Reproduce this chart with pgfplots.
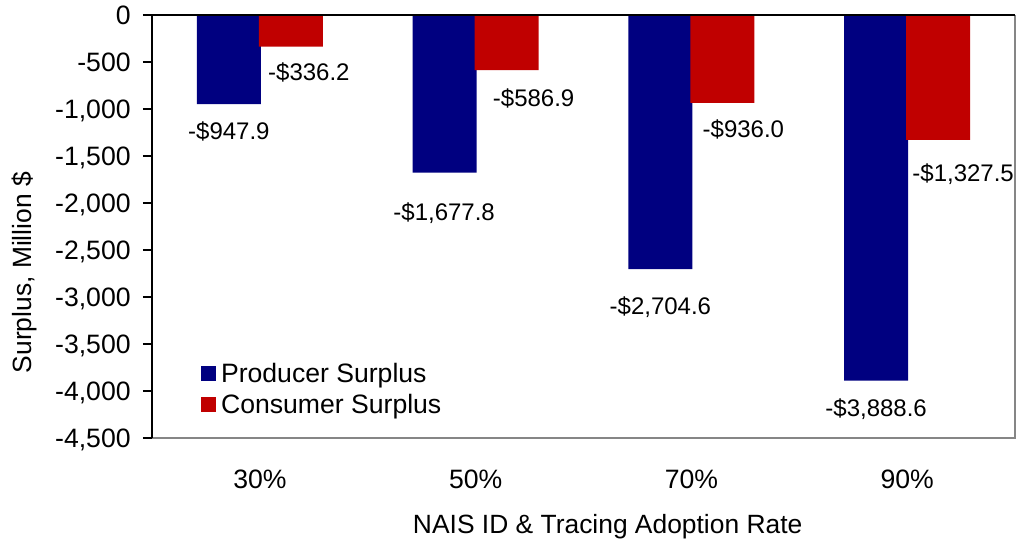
\documentclass[border=0pt]{standalone}
\usepackage{fontspec}
\setmainfont{Liberation Sans}
\usepackage{pgfplots}
\usepackage{pgfplotstable}
\pgfplotsset{compat=1.18}
\definecolor{prodblue}{RGB}{0,0,128}
\definecolor{consred}{RGB}{192,0,0}
\definecolor{framegray}{RGB}{134,134,134}

% x: category position, y: value, m: magnitude for the label, dx/dy: label offsets (pt)
\pgfplotstableread{
x y m dx dy
0.5 -947.9 947.9 -15.5 -8.95
1.5 -1677.8 1677.8 -15.75 -15.2
2.5 -2704.6 2704.6 -15.5 -13.95
3.5 -3888.6 3888.6 -15.5 -8.95
}\producer
\pgfplotstableread{
x y m dx dy
0.5 -336.2 336.2 24.5 -7.95
1.5 -586.9 586.9 29 -9.45
2.5 -936.0 936.0 26 -8.7
3.5 -1327.5 1327.5 28 -11.95
}\consumer

\begin{document}
\begin{tikzpicture}
\begin{axis}[
  at={(0,0)}, anchor=south west,
  scale only axis, width=431.5pt, height=211.5pt,
  clip=false,
  xmin=0, xmax=4, ymin=-4500, ymax=0,
  xtick={0.5,1.5,2.5,3.5}, xticklabels={30\%,50\%,70\%,90\%},
  ytick={-4500,-4000,...,0},
  axis line style={draw=none},
  ytick pos=left,
  xtick style={draw=none},
  ytick style={black, line width=0.8pt},
  tick align=outside, major tick length=4.5pt,
  /pgf/number format/assume math mode=true,
  /pgf/number format/1000 sep={,},
  tick label style={font=\fontsize{13.3}{16}\selectfont, inner sep=0pt, text height=9.5pt, text depth=0pt},
  yticklabel style={anchor=east, xshift=-6pt},
  xticklabel style={anchor=center, yshift=-16pt},
  xlabel={NAIS ID \& Tracing Adoption Rate},
  xlabel style={at={(axis description cs:0.528,0)}, anchor=center, yshift=-43pt,
    font=\fontsize{13.2}{16}\selectfont, inner sep=0pt, text height=9.4pt, text depth=0pt},
  ylabel={Surplus, Million \$},
  ylabel style={at={(axis description cs:-0.1506,0.391)}, anchor=center,
    font=\fontsize{13.2}{16}\selectfont, inner sep=0pt, text height=9.4pt, text depth=0pt},
  legend style={at={(axis description cs:0.0564,0.1768)}, anchor=north west,
    draw=none, fill=none, inner sep=0pt, row sep=6pt, column sep=2.5pt,
    font=\fontsize{13.3}{16}\selectfont,
    nodes={inner sep=0pt, text height=9.5pt, text depth=0pt}},
  legend cell align=left,
  legend image code/.code={\fill[#1] (0pt,-3.75pt) rectangle (7.5pt,3.75pt);},
  nodes near coords={-\$\pgfmathprintnumber[fixed,fixed zerofill,precision=1,1000 sep={,},assume math mode=true]{\pgfplotspointmeta}},
]
\addplot[ybar, bar width=0.2966, bar shift=-0.1437, fill=prodblue, draw=none,
  point meta=\thisrow{m},
  visualization depends on={\thisrow{dx} \as \dx},
  visualization depends on={\thisrow{dy} \as \dy},
  every node near coord/.append style={anchor=north, font=\fontsize{12}{14.4}\selectfont,
    inner sep=0pt, text height=8.6pt, text depth=0pt, text=black,
    xshift={\dx*1pt}, yshift={\dy*1pt}}]
  table[x=x, y=y] {\producer};
\addlegendentry{Producer Surplus}
\addplot[ybar, bar width=0.2966, bar shift=0.1437, fill=consred, draw=none,
  point meta=\thisrow{m},
  visualization depends on={\thisrow{dx} \as \dx},
  visualization depends on={\thisrow{dy} \as \dy},
  every node near coord/.append style={anchor=north, font=\fontsize{12}{14.4}\selectfont,
    inner sep=0pt, text height=8.6pt, text depth=0pt, text=black,
    xshift={\dx*1pt}, yshift={\dy*1pt}}]
  table[x=x, y=y] {\consumer};
\addlegendentry{Consumer Surplus}
\draw[framegray, line width=1pt] (rel axis cs:0,0) -- (rel axis cs:1,0) -- (rel axis cs:1,1);
\draw[black, line width=1pt] (rel axis cs:0,0) -- (rel axis cs:0,1) -- (rel axis cs:1,1);
\end{axis}
\pgfresetboundingbox
\useasboundingbox (-76pt,-51.5pt) rectangle (434pt,219pt);
\end{tikzpicture}
\end{document}
